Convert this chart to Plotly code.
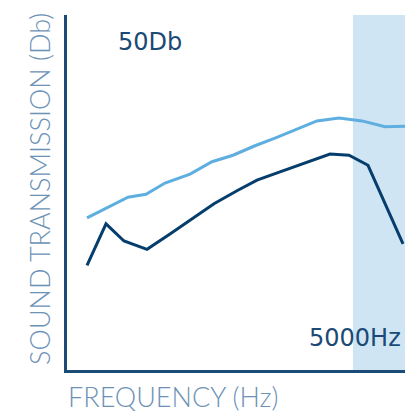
import plotly.graph_objects as go

# Frequency (Hz) and sound transmission (Db)
upper_freq = [350, 717, 1067, 1381, 1714, 2151, 2535, 2903, 3287, 3637, 4022, 4371, 4756, 5158, 5560, 5910]
upper_db = [25.7, 27.5, 29.2, 29.7, 31.6, 33.1, 35.2, 36.3, 37.9, 39.2, 40.7, 42.1, 42.6, 42.1, 41.1, 41.2]

lower_freq = [350, 682, 997, 1399, 1801, 2186, 2570, 2972, 3322, 3724, 4161, 4599, 4931, 5263, 5875]
lower_db = [17.7, 24.7, 21.8, 20.4, 23.0, 25.5, 28.1, 30.3, 32.1, 33.5, 35.0, 36.5, 36.3, 34.6, 21.3]

x_range = [0, 5910]
y_range = [0, 60]
band_start = 5000

fig = go.Figure()
fig.add_vrect(x0=band_start, x1=x_range[1], fillcolor="#d0e5f3", line_width=0, layer="below")
fig.add_trace(go.Scatter(x=upper_freq, y=upper_db, mode="lines",
                         line=dict(color="#5eaee0", width=3), hoverinfo="skip"))
fig.add_trace(go.Scatter(x=lower_freq, y=lower_db, mode="lines",
                         line=dict(color="#053d6c", width=3), hoverinfo="skip"))

label_font = dict(family="DejaVu Sans, sans-serif", size=24, color="#1a4a75")
title_font = dict(family="Lato, sans-serif", size=27, color="#6d92b6", weight=300)

fig.update_layout(
    width=405, height=413,
    margin=dict(l=67, r=0, t=15, b=43),
    paper_bgcolor="white", plot_bgcolor="white",
    showlegend=False,
    xaxis=dict(range=x_range, showgrid=False, zeroline=False, showticklabels=False,
               ticks="", showline=True, linecolor="#1b4c78", linewidth=3),
    yaxis=dict(range=y_range, showgrid=False, zeroline=False, showticklabels=False,
               ticks="", showline=True, linecolor="#1b4c78", linewidth=3),
    annotations=[
        dict(text="50Db", xref="paper", yref="paper", x=0.2456, y=0.924,
             xanchor="center", yanchor="middle", showarrow=False, font=label_font),
        dict(text="5000Hz", xref="paper", yref="paper", x=0.994, y=0.09,
             xanchor="right", yanchor="middle", showarrow=False, font=label_font),
        dict(text="FREQUENCY (Hz)", xref="paper", yref="paper", x=-0.003, y=-0.076,
             xanchor="left", yanchor="middle", showarrow=False, font=title_font),
        dict(text="SOUND TRANSMISSION (Db)", xref="paper", yref="paper", x=-0.08, y=0.51,
             xanchor="center", yanchor="middle", showarrow=False, textangle=-90,
             font=title_font),
    ],
)

fig.write_html("out.html", config={"displayModeBar": False},
               post_script="document.body.style.margin='0';document.body.style.overflow='hidden';")
